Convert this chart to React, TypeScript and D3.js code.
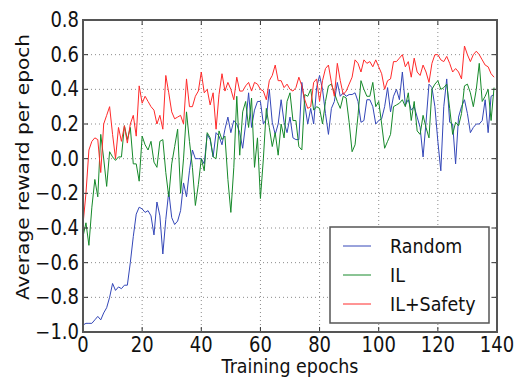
import React from "react";
import * as d3 from "d3";

const epochTicks = [0, 20, 40, 60, 80, 100, 120, 140];
const rewardTicks = [-1.0, -0.8, -0.6, -0.4, -0.2, 0.0, 0.2, 0.4, 0.6, 0.8];
const seriesNames = ["Random", "IL", "IL+Safety"];
const seriesColors = ["#3447b8", "#16892a", "#ff2a2a"];

const randomValues = [
  -0.96, -0.95, -0.95, -0.95, -0.93, -0.91, -0.93, -0.89, -0.86, -0.8,
  -0.72, -0.76, -0.74, -0.75, -0.73, -0.73, -0.6, -0.45, -0.32, -0.28,
  -0.29, -0.31, -0.3, -0.33, -0.44, -0.25, -0.33, -0.55, -0.35, -0.19,
  -0.34, -0.38, -0.36, -0.3, -0.14, -0.22, -0.07, 0.05, 0.0, 0.0,
  0.0, -0.03, 0.14, 0.11, 0.01, 0.15, 0.13, 0.08, 0.17, 0.24,
  0.15, 0.22, 0.2, 0.15, 0.06, 0.2, 0.38, 0.18, 0.28, 0.33,
  0.33, 0.2, 0.23, 0.4, 0.21, 0.14, 0.2, 0.34, 0.21, 0.15,
  0.24, 0.12, 0.11, 0.11, 0.44, 0.31, 0.2, 0.29, 0.2, 0.41,
  0.48, 0.4, 0.26, 0.14, 0.29, 0.33, 0.44, 0.36, 0.38, 0.36,
  0.37, 0.37, 0.38, 0.33, 0.21, 0.22, 0.34, 0.34, 0.3, 0.2,
  0.22, 0.23, 0.3, 0.41, 0.27, 0.36, 0.4, 0.34, 0.5, 0.31,
  0.34, 0.28, 0.3, 0.24, 0.18, 0.01, 0.21, 0.43, 0.41, 0.3,
  0.1, -0.07, 0.3, 0.46, 0.21, 0.2, -0.03, 0.24, 0.3, 0.34,
  0.26, 0.15, 0.18, 0.2, 0.2, 0.22, 0.34, 0.15, 0.36, 0.37,
];

const ilValues = [
  -0.45, -0.37, -0.5, -0.28, -0.12, -0.22, 0.14, 0.0, -0.16, 0.04,
  0.01, -0.01, 0.01, 0.01, 0.19, 0.11, 0.18, -0.03, -0.03, -0.13,
  0.13, 0.08, 0.05, 0.1, -0.02, -0.05, 0.1, 0.11, -0.08, -0.22,
  -0.03, 0.07, 0.17, -0.2, 0.0, 0.27, 0.1, -0.05, -0.27, -0.15,
  0.0, -0.07, 0.15, 0.12, 0.01, 0.0, 0.16, 0.11, 0.13, -0.12,
  -0.31, -0.05, 0.36, 0.02, 0.27, 0.33, 0.18, 0.35, -0.05, 0.12,
  -0.23, 0.0, 0.29, 0.18, 0.07, 0.15, 0.02, 0.2, 0.12, 0.33,
  0.38, 0.22, 0.22, 0.07, 0.05, 0.37, 0.36, 0.4, 0.28, 0.3,
  0.29, 0.2, 0.33, 0.42, 0.43, 0.38, 0.33, 0.29, 0.36, 0.35,
  0.21, 0.04, 0.08, 0.25, 0.45, 0.4, 0.36, 0.36, 0.44, 0.3,
  0.33, 0.2, 0.06, 0.1, 0.14, 0.3, 0.31, 0.32, 0.34, 0.3,
  0.38, 0.22, 0.33, 0.16, 0.14, 0.25, 0.18, 0.12, 0.4, 0.43,
  0.45, 0.4, 0.41, 0.43, 0.29, 0.14, 0.21, 0.19, 0.26, 0.42,
  0.43, 0.38, 0.3, 0.4, 0.55, 0.33, 0.36, 0.4, 0.22, 0.41,
];

const safetyValues = [
  -0.38, -0.2, 0.05, 0.1, 0.12, 0.11, -0.08, 0.2, 0.25, 0.3,
  0.14, 0.0, 0.18, 0.1, 0.19, 0.09, 0.2, 0.25, 0.13, 0.42,
  0.32, 0.36, 0.33, 0.3, 0.28, 0.2, 0.25, 0.17, 0.48, 0.38,
  0.27, 0.23, 0.24, 0.25, 0.2, 0.46, 0.3, 0.3, 0.36, 0.39,
  0.5, 0.38, 0.4, 0.31, 0.38, 0.17, 0.37, 0.49, 0.39, 0.44,
  0.4, 0.34, 0.47, 0.39, 0.39, 0.42, 0.44, 0.39, 0.44, 0.43,
  0.4, 0.39, 0.34, 0.45, 0.48, 0.54, 0.45, 0.45, 0.41, 0.43,
  0.4, 0.39, 0.41, 0.47, 0.42, 0.34, 0.29, 0.3, 0.44, 0.46,
  0.33, 0.45, 0.52, 0.54, 0.44, 0.36, 0.55, 0.45, 0.37, 0.39,
  0.43, 0.47, 0.57, 0.55, 0.5, 0.57, 0.55, 0.56, 0.53, 0.57,
  0.53, 0.49, 0.4, 0.45, 0.46, 0.56, 0.56, 0.58, 0.6, 0.53,
  0.56, 0.47, 0.58, 0.5, 0.48, 0.54, 0.5, 0.44, 0.55, 0.6,
  0.6, 0.57, 0.56, 0.59, 0.55, 0.5, 0.52, 0.5, 0.46, 0.65,
  0.6, 0.56, 0.6, 0.62, 0.6, 0.57, 0.54, 0.53, 0.49, 0.47,
];

const W = 516;
const H = 378;
const M = { left: 83, top: 20, right: 497, bottom: 332 };
const FONT = "DejaVu Sans, sans-serif";
const SY = 1.15;

function T(props: { x: number; y: number; anchor?: string; size: number; rotate?: boolean; children: React.ReactNode }) {
  const { x, y, anchor, size, rotate, children } = props;
  const tf = `translate(${x},${y}) scale(1,${SY})${rotate ? " rotate(-90)" : ""}`;
  return (
    <text transform={tf} textAnchor={anchor || "start"} fontSize={size} fill="#111">
      {children}
    </text>
  );
}

export default function App() {
  const x = d3.scaleLinear().domain([0, 140]).range([M.left, M.right]);
  const y = d3.scaleLinear().domain([-1.0, 0.8]).range([M.bottom, M.top]);
  const all = [randomValues, ilValues, safetyValues];
  const line = d3
    .line<number>()
    .x((_, i) => x(i))
    .y((d) => y(d));
  const fmt = (v: number) => (v < 0 ? "\u2212" : "") + Math.abs(v).toFixed(1);
  const tickLen = 5;
  const legX = 330;
  const legY = 227;
  const legW = 159;
  const legH = 96;
  const rowY = [246, 275, 304];
  return (
    <svg
      width={W}
      height={H}
      style={{ position: "fixed", left: 0, top: 0, background: "#fff" }}
      fontFamily={FONT}
    >
      <rect x={0} y={0} width={W} height={H} fill="#fff" />
      {epochTicks.slice(1, -1).map((t) => (
        <line key={"gx" + t} x1={x(t)} x2={x(t)} y1={M.top} y2={M.bottom} stroke="#8a8a8a" strokeWidth={1} strokeDasharray="1,3" />
      ))}
      {rewardTicks.slice(1, -1).map((t) => (
        <line key={"gy" + t} x1={M.left} x2={M.right} y1={y(t)} y2={y(t)} stroke="#8a8a8a" strokeWidth={1} strokeDasharray="1,3" />
      ))}
      {all.map((vals, k) => (
        <path key={k} d={line(vals) || ""} fill="none" stroke={seriesColors[k]} strokeWidth={1} strokeLinejoin="round" />
      ))}
      {epochTicks.map((t) => (
        <g key={"tx" + t}>
          <line x1={x(t)} x2={x(t)} y1={M.bottom} y2={M.bottom - tickLen} stroke="#333" />
          <line x1={x(t)} x2={x(t)} y1={M.top} y2={M.top + tickLen} stroke="#333" />
          <T x={x(t)} y={M.bottom + 20} anchor="middle" size={18}>
            {t}
          </T>
        </g>
      ))}
      {rewardTicks.map((t) => (
        <g key={"ty" + t}>
          <line x1={M.left} x2={M.left + tickLen} y1={y(t)} y2={y(t)} stroke="#333" />
          <line x1={M.right} x2={M.right - tickLen} y1={y(t)} y2={y(t)} stroke="#333" />
          <T x={M.left - 4} y={y(t) + 7} anchor="end" size={18}>
            {fmt(t)}
          </T>
        </g>
      ))}
      <rect x={M.left} y={M.top} width={M.right - M.left} height={M.bottom - M.top} fill="none" stroke="#555" strokeWidth={2} />
      <T x={(M.left + M.right) / 2} y={373} anchor="middle" size={17.5}>
        Training epochs
      </T>
      <T x={29} y={167} anchor="middle" size={17.5} rotate>
        Average reward per epoch
      </T>
      <rect x={legX} y={legY} width={legW} height={legH} fill="#fff" stroke="#555" strokeWidth={1.5} />
      {seriesNames.map((n, k) => (
        <g key={n}>
          <line x1={legX + 13} x2={legX + 41} y1={rowY[k]} y2={rowY[k]} stroke={seriesColors[k]} strokeWidth={1} />
          <T x={legX + 60} y={rowY[k] + 7} size={17.5}>
            {n}
          </T>
        </g>
      ))}
    </svg>
  );
}
